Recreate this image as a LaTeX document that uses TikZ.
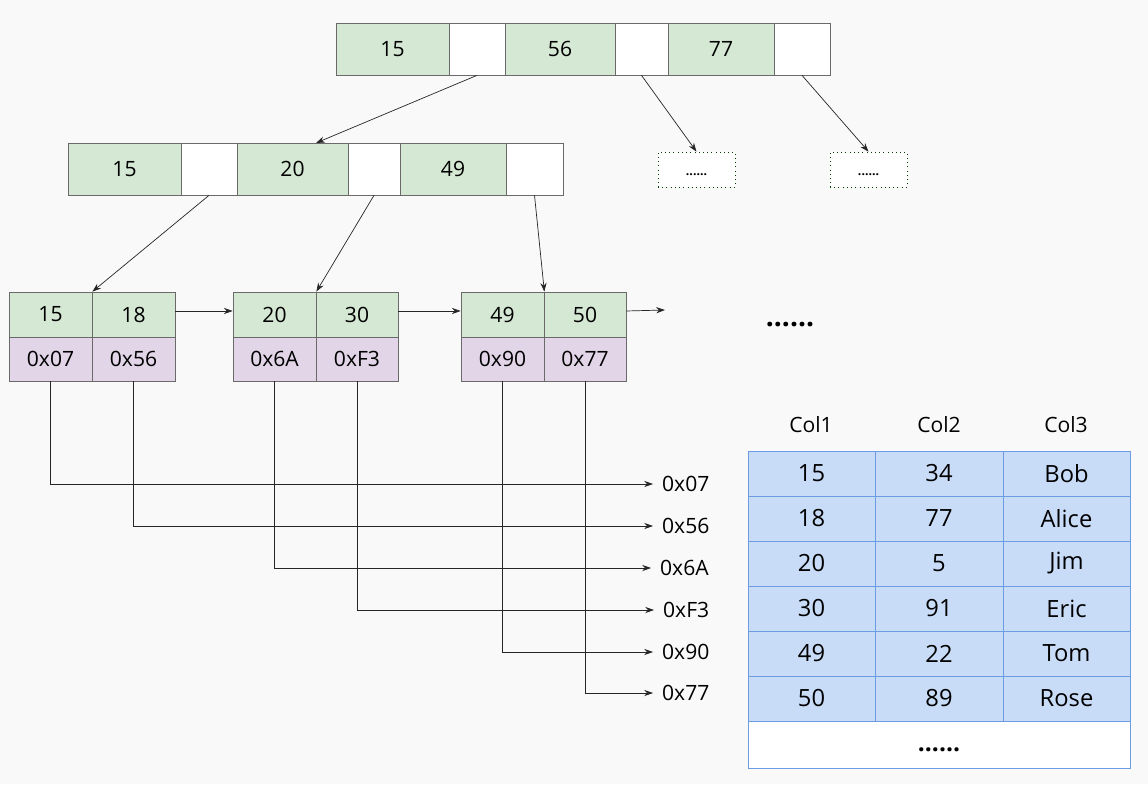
\documentclass[tikz,border=0pt]{standalone}
\usepackage{fontspec}
\setmainfont{Open Sans}
\usetikzlibrary{arrows.meta, fit, positioning}

\definecolor{keygreen}{HTML}{D5E8D4}
\definecolor{addrpurple}{HTML}{E1D5E7}
\definecolor{rowblue}{HTML}{C8DCF8}
\definecolor{tableline}{HTML}{6C9DE2}
\definecolor{cellline}{HTML}{6A6A6A}
\definecolor{canvas}{HTML}{F9F9F9}

\tikzset{
  keycell/.style={draw=cellline, fill=keygreen, inner sep=0pt,
    label={[font=\fontsize{12}{14}\selectfont]center:#1}},
  ptrcell/.style={draw=cellline, fill=white, inner sep=0pt},
  addrcell/.style={draw=cellline, fill=addrpurple, inner sep=0pt,
    label={[font=\fontsize{12}{14}\selectfont]center:#1}},
  stub/.style={draw=green!25!black, dotted, fill=white, inner sep=0pt,
    label={[font=\scriptsize\bfseries, yshift=-3pt]center:......}},
  rowcell/.style={draw=tableline, fill=rowblue, inner sep=0pt,
    label={[font=\fontsize{13.5}{15}\selectfont]center:#1}},
  link/.style={draw=black!85, -{Stealth[length=5pt, width=3.5pt]}},
  lbl/.style={font=\fontsize{12}{14}\selectfont, inner sep=5pt}
}

\begin{document}
\begin{tikzpicture}[x=0.02cm, y=-0.02cm]
    \fill[canvas] (0,0) rectangle (1148,784);
    % root node
    \node[keycell=15, fit={(336,23) (449,75)}] (r15) {};
    \node[ptrcell, fit={(449,23) (505,75)}] (rp1) {};
    \node[keycell=56, fit={(505,23) (615,75)}] (r56) {};
    \node[ptrcell, fit={(615,23) (668,75)}] (rp2) {};
    \node[keycell=77, fit={(668,23) (774,75)}] (r77) {};
    \node[ptrcell, fit={(774,23) (830,75)}] (rp3) {};
    % inner node
    \node[keycell=15, fit={(68,143) (181,195)}] (m15) {};
    \node[ptrcell, fit={(181,143) (237,195)}] (mp1) {};
    \node[keycell=20, fit={(237,143) (348,195)}] (m20) {};
    \node[ptrcell, fit={(348,143) (400,195)}] (mp2) {};
    \node[keycell=49, fit={(400,143) (506,195)}] (m49) {};
    \node[ptrcell, fit={(506,143) (563,195)}] (mp3) {};
    \node[stub, fit={(658,152) (735,187)}] (s1) {};
    \node[stub, fit={(830,152) (907,187)}] (s2) {};
    % leaf nodes
    \node[keycell=15, fit={(9,292) (92,337)}] (k15) {};
    \node[keycell=18, fit={(92,292) (175,337)}] (k18) {};
    \node[addrcell=0x07, fit={(9,337) (92,381)}] (a07) {};
    \node[addrcell=0x56, fit={(92,337) (175,381)}] (a56) {};
    \node[keycell=20, fit={(233,292) (316,337)}] (k20) {};
    \node[keycell=30, fit={(316,292) (398,337)}] (k30) {};
    \node[addrcell=0x6A, fit={(233,337) (316,381)}] (a6A) {};
    \node[addrcell=0xF3, fit={(316,337) (398,381)}] (aF3) {};
    \node[keycell=49, fit={(461,292) (544,337)}] (k49) {};
    \node[keycell=50, fit={(544,292) (626,337)}] (k50) {};
    \node[addrcell=0x90, fit={(461,337) (544,381)}] (a90) {};
    \node[addrcell=0x77, fit={(544,337) (626,381)}] (a77) {};
    \node[font=\fontsize{16}{18}\selectfont\bfseries] (more) at (790,325) {......};
    % tree links
    \coordinate (m20in) at (316,143);
    \coordinate (next) at (665,310);
    \draw[link] (rp1.south) -- (m20in);
    \draw[link] (rp2.south) -- (s1.north);
    \draw[link] (rp3.south) -- (s2.north);
    \draw[link] (mp1.south) -- (k15.north east);
    \draw[link] (mp2.south) -- (k20.north east);
    \draw[link] (mp3.south) -- (k49.north east);
    \draw[link] ([yshift=2pt]k18.east) -- ([yshift=2pt]k20.west);
    \draw[link] ([yshift=2pt]k30.east) -- ([yshift=2pt]k49.west);
    \draw[link] ([yshift=2pt]k50.east) -- (next);
    % row addresses
    \node[lbl, anchor=west] (p07) at (653,484) {0x07};
    \node[lbl, anchor=west] (p56) at (653,526) {0x56};
    \node[lbl, anchor=west] (p6A) at (651,568) {0x6A};
    \node[lbl, anchor=west] (pF3) at (654,610) {0xF3};
    \node[lbl, anchor=west] (p90) at (653,652) {0x90};
    \node[lbl, anchor=west] (p77) at (653,693) {0x77};
    \draw[link] (a07.south) |- (p07.west);
    \draw[link] (a56.south) |- (p56.west);
    \draw[link] (a6A.south) |- (p6A.west);
    \draw[link] (aF3.south) |- (pF3.west);
    \draw[link] (a90.south) |- (p90.west);
    \draw[link] (a77.south) |- (p77.west);
    % table
    \node[lbl] (h1) at (811,425) {Col1};
    \node[lbl] (h2) at (939,425) {Col2};
    \node[lbl] (h3) at (1066,425) {Col3};
    \node[rowcell=15, fit={(748,451) (875,496)}] (t1a) {};
    \node[rowcell=34, fit={(875,451) (1003,496)}] (t1b) {};
    \node[rowcell=Bob, fit={(1003,451) (1130,496)}] (t1c) {};
    \node[rowcell=18, fit={(748,496) (875,541)}] (t2a) {};
    \node[rowcell=77, fit={(875,496) (1003,541)}] (t2b) {};
    \node[rowcell=Alice, fit={(1003,496) (1130,541)}] (t2c) {};
    \node[rowcell=20, fit={(748,541) (875,586)}] (t3a) {};
    \node[rowcell=5, fit={(875,541) (1003,586)}] (t3b) {};
    \node[rowcell=Jim, fit={(1003,541) (1130,586)}] (t3c) {};
    \node[rowcell=30, fit={(748,586) (875,631)}] (t4a) {};
    \node[rowcell=91, fit={(875,586) (1003,631)}] (t4b) {};
    \node[rowcell=Eric, fit={(1003,586) (1130,631)}] (t4c) {};
    \node[rowcell=49, fit={(748,631) (875,676)}] (t5a) {};
    \node[rowcell=22, fit={(875,631) (1003,676)}] (t5b) {};
    \node[rowcell=Tom, fit={(1003,631) (1130,676)}] (t5c) {};
    \node[rowcell=50, fit={(748,676) (875,721)}] (t6a) {};
    \node[rowcell=89, fit={(875,676) (1003,721)}] (t6b) {};
    \node[rowcell=Rose, fit={(1003,676) (1130,721)}] (t6c) {};
    \node[draw=tableline, fill=white, inner sep=0pt, fit={(748,721) (1130,768)},
      label={[font=\fontsize{14}{16}\selectfont\bfseries, yshift=-3pt]center:......}] (tmore) {};
\end{tikzpicture}
\end{document}
